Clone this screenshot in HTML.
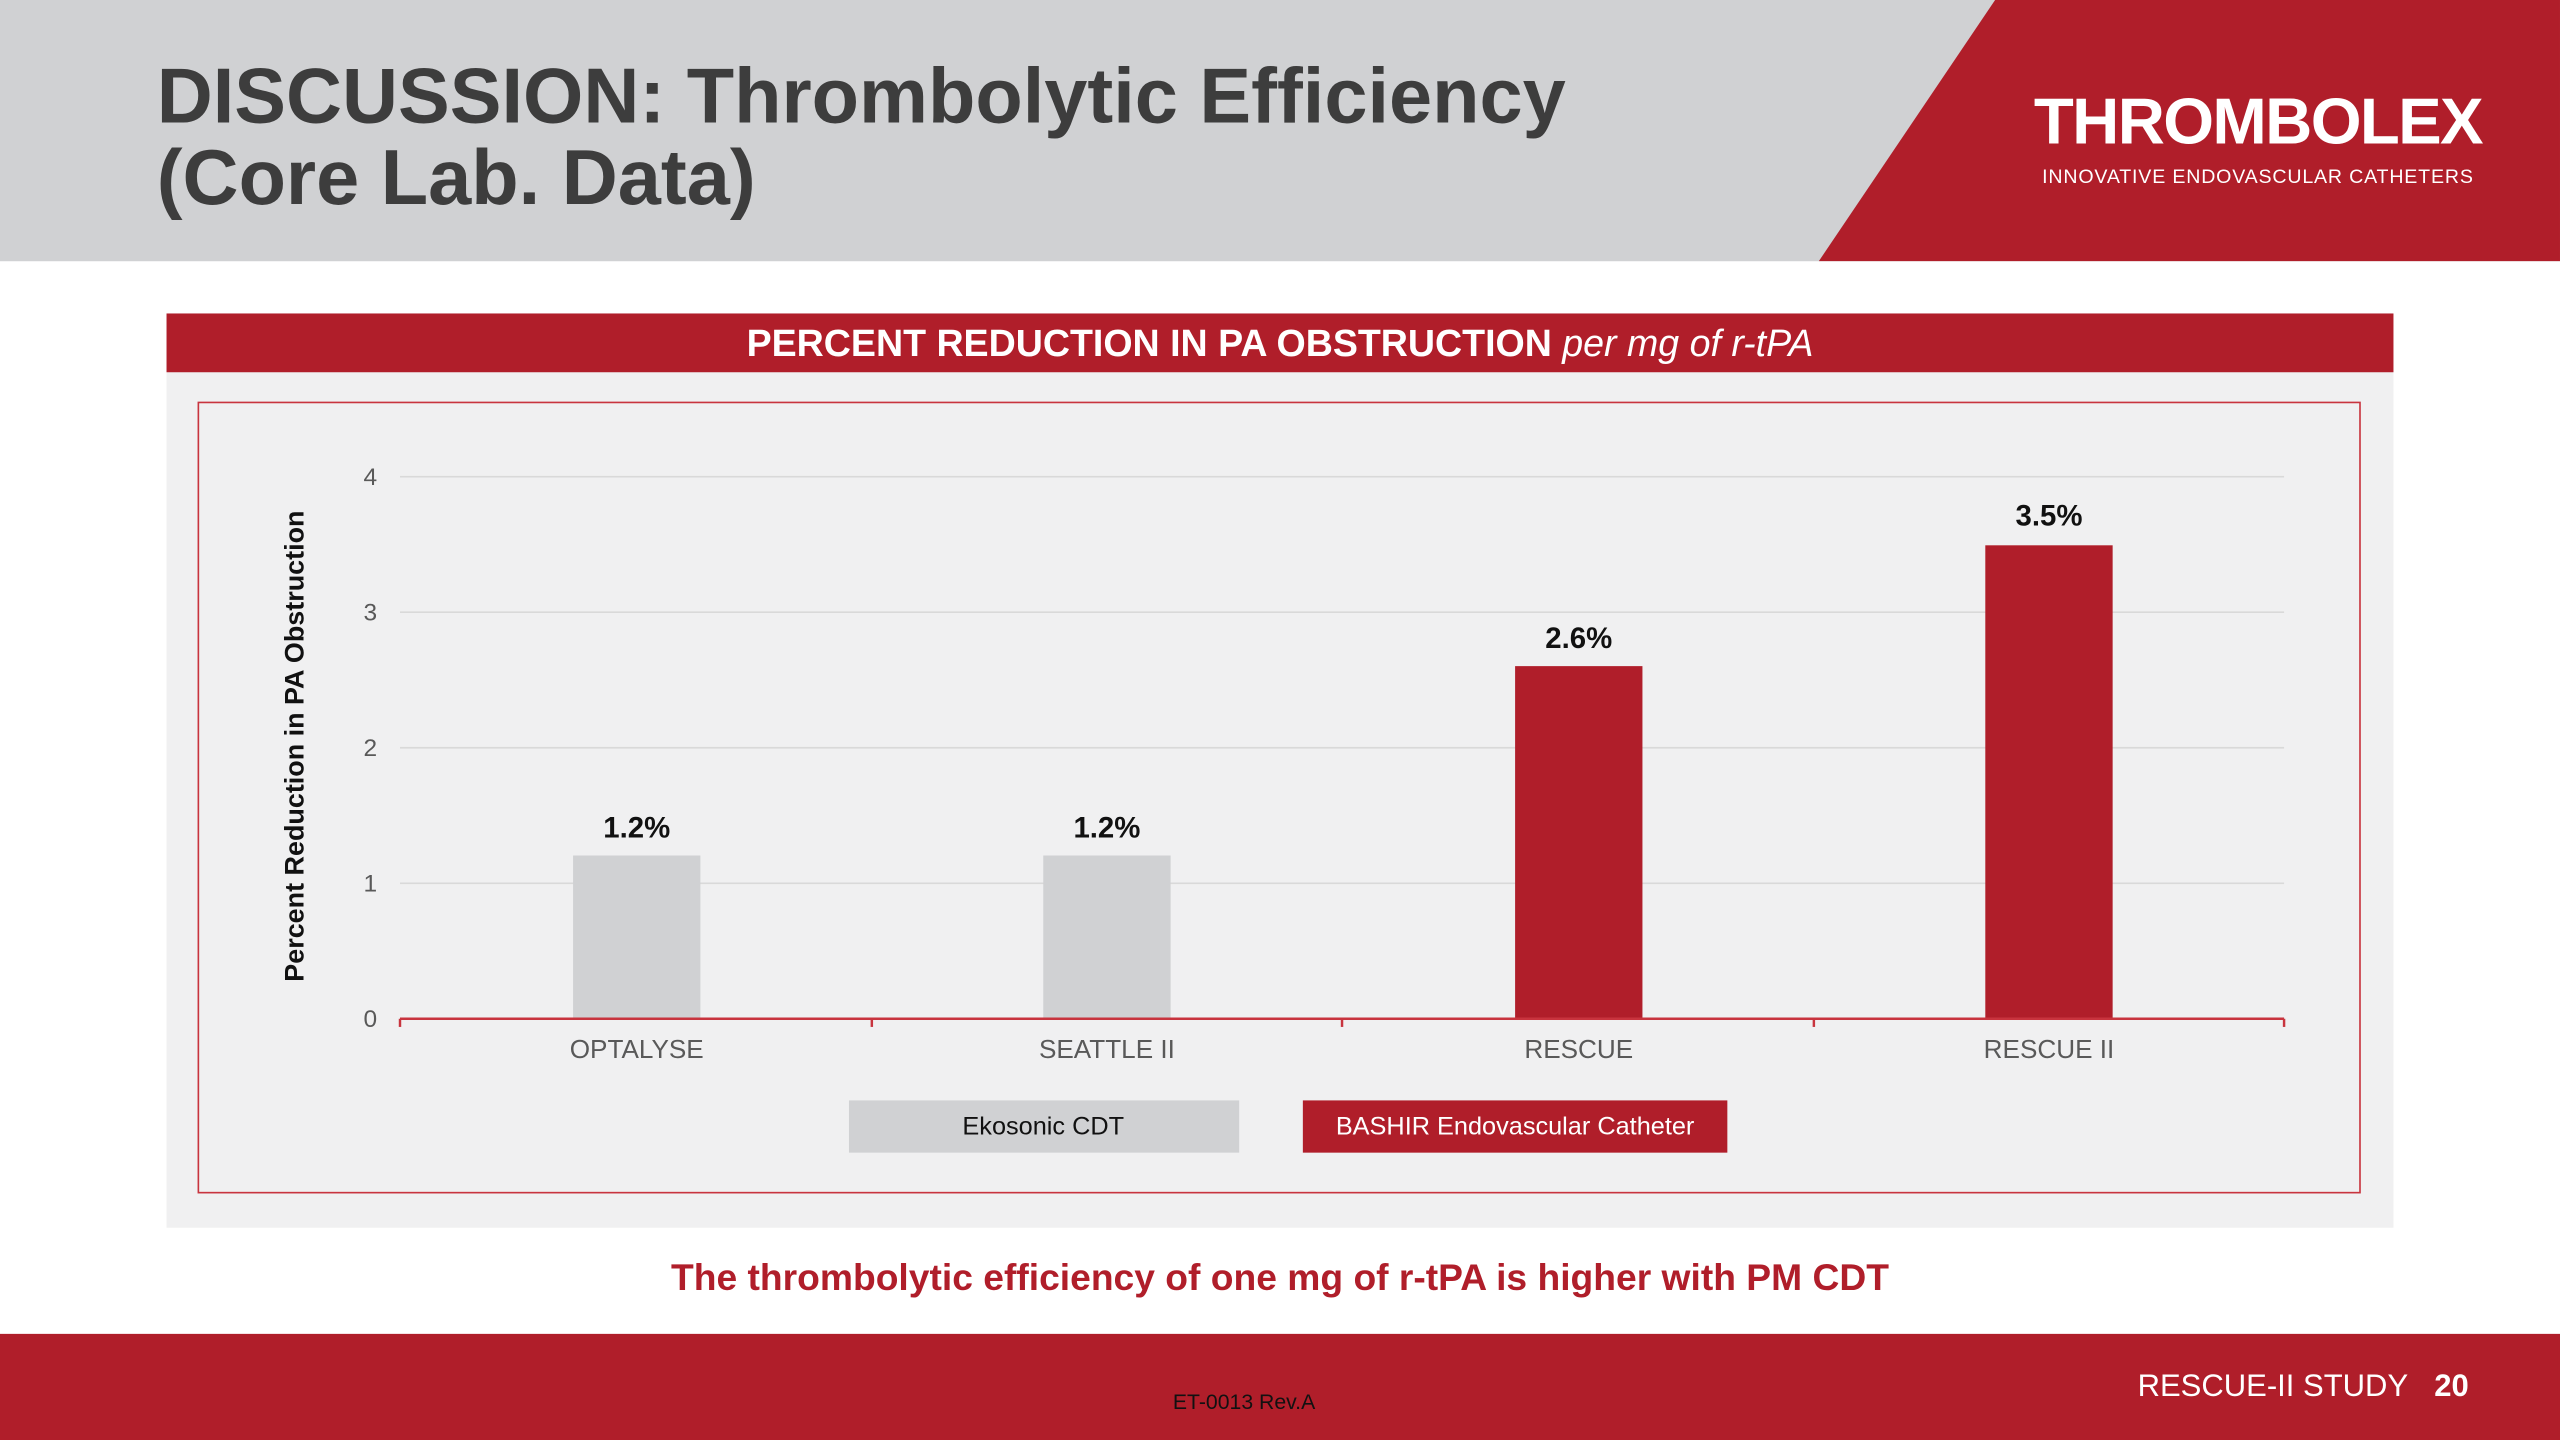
<!DOCTYPE html>
<html><head><meta charset="utf-8"><style>
html,body{margin:0;padding:0;width:2560px;height:1440px;overflow:hidden;background:#fff}
#s{position:absolute;left:0;top:0;width:1568px;height:882px;transform:scale(1.63265);transform-origin:0 0;font-family:"Liberation Sans",sans-serif}
.a{position:absolute}
</style></head><body><div id="s">
<div class="a" style="left:0;top:0;width:1568px;height:160px;background:#d0d1d3"></div>
<svg class="a" style="left:0;top:0" width="1568" height="160"><polygon points="1222,0 1568,0 1568,160 1114,160" fill="#b01e2a"/></svg>
<div class="a" style="left:96px;top:35px;font-size:47.5px;font-weight:bold;color:#3d3d3d;line-height:50px">DISCUSSION: Thrombolytic Efficiency<br>(Core Lab. Data)</div>
<div class="a" style="left:1240px;top:52px;width:286px;text-align:center;color:#fff;font-weight:900;font-size:40px;letter-spacing:-1px;line-height:46px">THROMBOLEX</div>
<div class="a" style="left:1240px;top:101px;width:286px;text-align:center;color:#fff;font-size:12px;letter-spacing:0.5px">INNOVATIVE ENDOVASCULAR CATHETERS</div>

<div class="a" style="left:102px;top:192px;width:1364px;height:560px;background:#f0f0f1"></div>
<div class="a" style="left:102px;top:192px;width:1364px;height:36px;background:#b01e2a;color:#fff;font-size:23px;text-align:center;line-height:36px"><b>PERCENT REDUCTION IN PA OBSTRUCTION</b> <i>per mg of r-tPA</i></div>
<div class="a" style="left:121px;top:246px;width:1323px;height:483px;border:1.5px solid #c8343e"></div>

<svg class="a" style="left:0;top:0" width="1568" height="882" font-family="Liberation Sans, sans-serif">
<g stroke="#d9d9d9" stroke-width="1">
<line x1="245" y1="292" x2="1399" y2="292"/><line x1="245" y1="375" x2="1399" y2="375"/><line x1="245" y1="458" x2="1399" y2="458"/><line x1="245" y1="541" x2="1399" y2="541"/></g>
<g font-size="15" fill="#595959" text-anchor="end"><text x="231" y="297">4</text><text x="231" y="380">3</text><text x="231" y="463">2</text><text x="231" y="546">1</text><text x="231" y="629">0</text></g>
<rect x="351" y="524" width="78" height="100" fill="#d0d1d3"/>
<rect x="639" y="524" width="78" height="100" fill="#d0d1d3"/>
<rect x="928" y="408" width="78" height="216" fill="#b01e2a"/>
<rect x="1216" y="334" width="78" height="290" fill="#b01e2a"/>
<g stroke="#c8343e" stroke-width="1.5"><line x1="245" y1="624" x2="1399" y2="624"/>
<line x1="245" y1="624" x2="245" y2="629"/><line x1="534" y1="624" x2="534" y2="629"/><line x1="822" y1="624" x2="822" y2="629"/><line x1="1111" y1="624" x2="1111" y2="629"/><line x1="1399" y1="624" x2="1399" y2="629"/></g>
<g font-size="18" font-weight="bold" fill="#111" text-anchor="middle"><text x="390" y="513">1.2%</text><text x="678" y="513">1.2%</text><text x="967" y="397">2.6%</text><text x="1255" y="322">3.5%</text></g>
<g font-size="16" fill="#595959" text-anchor="middle"><text x="390" y="648">OPTALYSE</text><text x="678" y="648">SEATTLE II</text><text x="967" y="648">RESCUE</text><text x="1255" y="648">RESCUE II</text></g>
<text transform="translate(186,457) rotate(-90)" font-size="16.5" font-weight="bold" fill="#111" text-anchor="middle">Percent Reduction in PA Obstruction</text>
<rect x="520" y="674" width="239" height="32" fill="#d0d1d3"/>
<rect x="798" y="674" width="260" height="32" fill="#b01e2a"/>
<text x="639" y="695" font-size="15.5" fill="#111" text-anchor="middle">Ekosonic CDT</text>
<text x="928" y="695" font-size="15.5" fill="#fff" text-anchor="middle">BASHIR Endovascular Catheter</text>
<text x="784" y="790" font-size="22.8" font-weight="bold" fill="#b01e2a" text-anchor="middle">The thrombolytic efficiency of one mg of r-tPA is higher with PM CDT</text>
<rect x="0" y="817" width="1568" height="65" fill="#b01e2a"/>
<text x="1475" y="855" font-size="19" fill="#fff" text-anchor="end">RESCUE-II STUDY</text>
<text x="1491" y="855" font-size="19" font-weight="bold" fill="#fff">20</text>
<text x="762" y="863" font-size="13" fill="#111" text-anchor="middle">ET-0013 Rev.A</text>
</svg>
</div></body></html>
